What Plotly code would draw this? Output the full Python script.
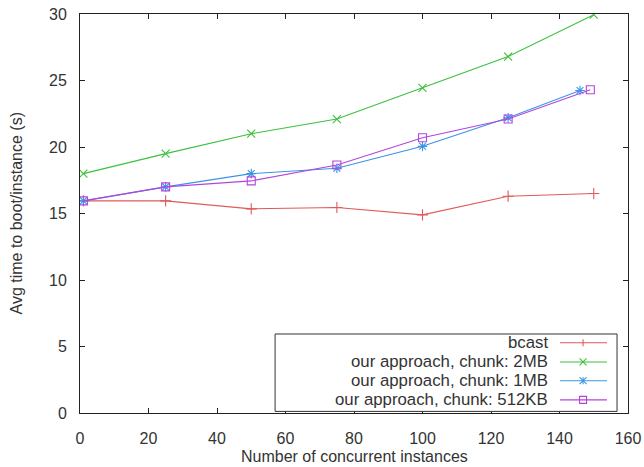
import plotly.graph_objects as go

# ---- data ----
x_bcast = [1, 25, 50, 75, 100, 125, 150]
y_bcast = [15.95, 15.95, 15.35, 15.45, 14.9, 16.3, 16.5]

x_2mb = [1, 25, 50, 75, 100, 125, 150]
y_2mb = [18.0, 19.5, 21.0, 22.1, 24.45, 26.8, 29.95]

x_1mb = [1, 25, 50, 75, 100, 125, 146]
y_1mb = [15.95, 17.0, 18.0, 18.4, 20.05, 22.2, 24.25]

x_512 = [1, 25, 50, 75, 100, 125, 149]
y_512 = [15.95, 17.0, 17.45, 18.65, 20.7, 22.1, 24.3]

names = ["bcast", "our approach, chunk: 2MB", "our approach, chunk: 1MB",
         "our approach, chunk: 512KB"]
colors = ["#e05a5a", "#3cc03c", "#3a94e6", "#b445dc"]
symbols = ["cross-thin-open", "x-thin-open", "asterisk-open", "square-open"]

x_ticks = [0, 20, 40, 60, 80, 100, 120, 140, 160]
y_ticks = [0, 5, 10, 15, 20, 25, 30]

FONT = "Liberation Sans, Arial, sans-serif"
FS = 16.8      # legend text
FS_AX = 16     # ticks and axis titles
TXT = "#333333"

fig = go.Figure()
series = [(x_bcast, y_bcast), (x_2mb, y_2mb), (x_1mb, y_1mb), (x_512, y_512)]
for (xs, ys), n, c, s in zip(series, names, colors, symbols):
    fig.add_trace(go.Scatter(
        x=xs, y=ys, name=n, mode="lines+markers",
        line=dict(color=c, width=1.1),
        marker=dict(symbol=s, size=8, color=c, line=dict(color=c, width=1.1)),
        showlegend=False,
    ))

# ---- custom gnuplot-style legend (text right, sample on the right) ----
shapes = []
annotations = []
shapes.append(dict(type="rect", xref="paper", yref="paper",
                   x0=0.356, x1=0.980, y0=0.004, y1=0.198,
                   line=dict(color="#333333", width=1), fillcolor="white",
                   layer="above"))
row_y = [0.176, 0.128, 0.081, 0.033]
mx = 0.918
for n, c, s, ry in zip(names, colors, symbols, row_y):
    annotations.append(dict(xref="paper", yref="paper", x=0.8516, y=ry,
                            text=n, showarrow=False, xanchor="right",
                            yanchor="middle", xshift=3,
                            font=dict(family=FONT, size=FS, color=TXT)))
    shapes.append(dict(type="line", xref="paper", yref="paper",
                       x0=0.876, x1=0.9617, y0=ry, y1=ry,
                       line=dict(color=c, width=1.1), layer="above"))
    d = 3.5
    common = dict(xref="paper", yref="paper", xsizemode="pixel",
                  ysizemode="pixel", xanchor=mx, yanchor=ry,
                  line=dict(color=c, width=1.1), layer="above")
    if s.startswith("cross"):
        shapes.append(dict(type="line", x0=0, x1=0, y0=-d, y1=d, **common))
    elif s.startswith("x-"):
        shapes.append(dict(type="line", x0=-d, x1=d, y0=-d, y1=d, **common))
        shapes.append(dict(type="line", x0=-d, x1=d, y0=d, y1=-d, **common))
    elif s.startswith("asterisk"):
        shapes.append(dict(type="line", x0=0, x1=0, y0=-d, y1=d, **common))
        shapes.append(dict(type="line", x0=-d, x1=d, y0=-d, y1=d, **common))
        shapes.append(dict(type="line", x0=-d, x1=d, y0=d, y1=-d, **common))
    else:
        shapes.append(dict(type="rect", x0=-d, x1=d, y0=-d, y1=d,
                           fillcolor="rgba(0,0,0,0)", **common))

# axis titles
annotations.append(dict(xref="paper", yref="paper", x=0.5, y=0,
                        yshift=-54, text="Number of concurrent instances",
                        showarrow=False, xanchor="center", yanchor="bottom",
                        font=dict(family=FONT, size=FS_AX, color=TXT)))
annotations.append(dict(xref="paper", yref="paper", x=0, y=0.5,
                        xshift=-64, text="Avg time to boot/instance (s)",
                        textangle=-90, showarrow=False, xanchor="center",
                        yanchor="middle",
                        font=dict(family=FONT, size=FS_AX, color=TXT)))

axis_common = dict(showgrid=False, zeroline=False, showline=True,
                   linecolor="#222222", linewidth=1, mirror="ticks",
                   ticks="inside", ticklen=5, tickcolor="#222222",
                   automargin=False,
                   tickfont=dict(family=FONT, size=FS_AX, color=TXT))

fig.update_layout(
    width=644, height=467,
    margin=dict(l=80, r=16, t=14, b=54, autoexpand=False),
    paper_bgcolor="white", plot_bgcolor="white",
    xaxis=dict(range=[0, 160], tickvals=x_ticks, ticklabelstandoff=11,
               **axis_common),
    yaxis=dict(range=[0, 30], tickvals=y_ticks, ticklabelstandoff=9,
               **axis_common),
    shapes=shapes,
    annotations=annotations,
)

fig.write_html(
    "out.html",
    config={"displayModeBar": False},
    post_script="document.body.style.margin='0';"
                "document.body.style.overflow='hidden';",
)
